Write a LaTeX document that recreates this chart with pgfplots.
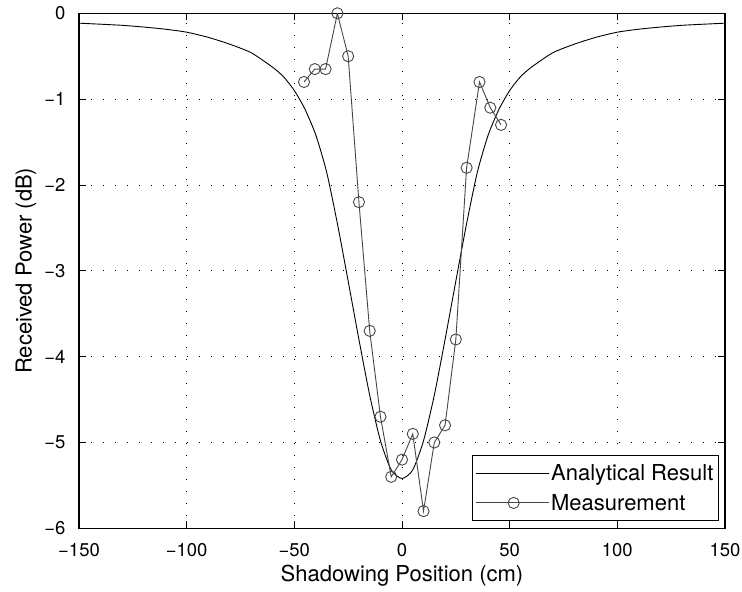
\documentclass[border=0pt]{standalone}
\usepackage{pgfplots}
\pgfplotsset{compat=1.18}
\usepackage{fontspec}
\setmainfont{TeX Gyre Heros}
\begin{document}
\begin{tikzpicture}
\begin{axis}[
  at={(0,0)}, anchor=south west,
  scale only axis, width=646pt, height=515pt,
  xmin=-150, xmax=150, ymin=-6, ymax=0,
  xtick={-150,-100,-50,0,50,100,150},
  xticklabels={−150,−100,−50,0,50,100,150},
  ytick={-6,-5,-4,-3,-2,-1,0},
  yticklabels={−6,−5,−4,−3,−2,−1,0},
  tick align=inside, major tick length=7pt,
  xtick pos=both, ytick pos=both,
  axis line style={line width=1.1pt},
  tick style={line width=0.8pt, black},
  grid=major,
  major grid style={black, line width=0.9pt, dash pattern=on 0.9pt off 11.1pt},
  ticklabel style={font=\fontsize{18.5}{22}\selectfont},
  xticklabel style={anchor=base, yshift=-28pt},
  yticklabel style={anchor=east, xshift=-10pt},
  label style={font=\fontsize{22}{26}\selectfont},
  xlabel={Shadowing Position (cm)},
  ylabel={Received Power (dB)},
  xlabel style={at={(axis description cs:0.5,-0.1035)}, anchor=base},
  ylabel style={at={(axis description cs:-0.0732,0.5)}, anchor=base},
  legend style={at={(rel axis cs:0.9907,0.0136)}, anchor=south east,
    font=\fontsize{22}{26}\selectfont, draw=black, line width=1.2pt,
    inner xsep=3pt, inner ysep=7pt, row sep=8pt},
  legend cell align=left,
  legend image code/.code={\path (-9pt,0pt) -- (64pt,0pt);
    \draw[mark repeat=2,mark phase=2,#1] plot coordinates {(0pt,0pt) (29pt,0pt) (58pt,0pt)};},
]
\addplot[black, line width=0.9pt, smooth, tension=0.4] coordinates {
(-150,-0.115) (-140,-0.127) (-130,-0.14) (-120,-0.16) (-110,-0.185) (-100,-0.22)
(-90,-0.28) (-80,-0.36) (-70,-0.46) (-60,-0.63) (-55,-0.74) (-50,-0.9)
(-45,-1.12) (-40,-1.42) (-35,-1.85) (-30,-2.45) (-25,-3.12) (-20,-3.8)
(-15,-4.45) (-10,-4.98) (-5,-5.32) (0,-5.42) (5,-5.32) (10,-4.98)
(15,-4.45) (20,-3.8) (25,-3.12) (30,-2.45) (35,-1.85) (40,-1.42)
(45,-1.12) (50,-0.9) (55,-0.74) (60,-0.63) (70,-0.46) (80,-0.36)
(90,-0.28) (100,-0.22) (110,-0.185) (120,-0.16) (130,-0.14) (140,-0.127) (150,-0.115)
};
\addlegendentry{Analytical Result}
\addplot[color={rgb,255:red,70;green,70;blue,70}, line width=0.9pt, mark=o, mark size=5.6pt,
  mark options={line width=0.9pt}] coordinates {
(-45.5,-0.8) (-40.5,-0.65) (-35.5,-0.65) (-30,0) (-25,-0.5) (-20,-2.2)
(-15,-3.7) (-10,-4.7) (-5,-5.4) (0,-5.2) (5,-4.9) (10,-5.8)
(15,-5.0) (20,-4.8) (25,-3.8) (30,-1.8) (36,-0.8) (41,-1.1) (46,-1.3)
};
\addlegendentry{Measurement}
\end{axis}
\pgfresetboundingbox
\path[use as bounding box] (-79pt,-63.3pt) rectangle (663pt,528.3pt);
\end{tikzpicture}
\end{document}
